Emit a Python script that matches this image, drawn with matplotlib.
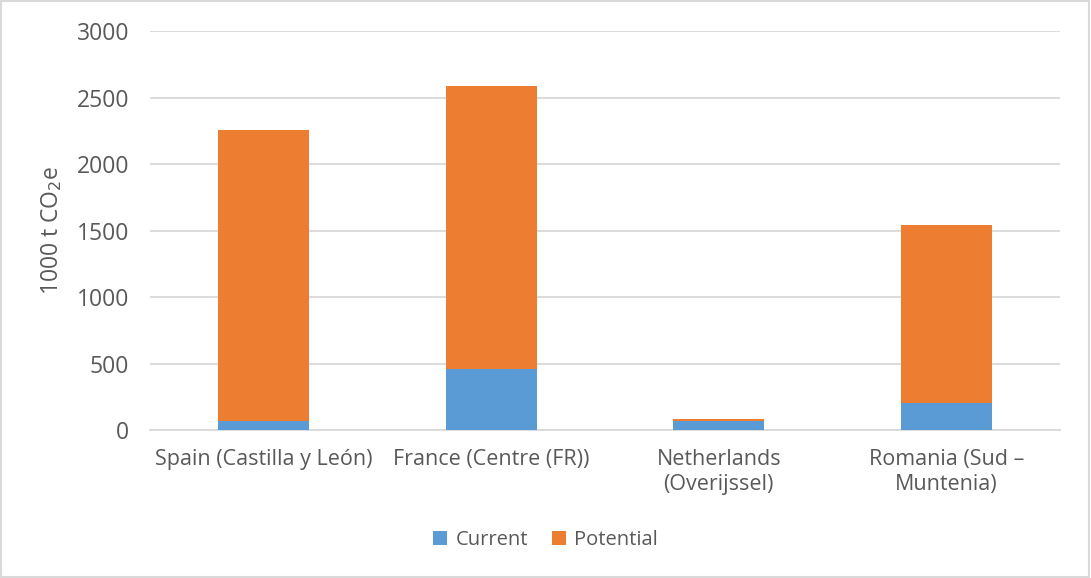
import matplotlib
matplotlib.use("Agg")
import matplotlib.pyplot as plt
from matplotlib.patches import Rectangle

categories = ["Spain (Castilla y León)", "France (Centre (FR))",
              "Netherlands\n(Overijssel)", "Romania (Sud –\nMuntenia)"]
current = [68, 459, 68, 201]
potential = [2192, 2131, 12, 1343]
yticks = [0, 500, 1000, 1500, 2000, 2500, 3000]

plt.rcParams['font.family'] = ['Open Sans', 'DejaVu Sans']
txt = '#595959'
fig = plt.figure(figsize=(10.91, 5.78), dpi=100)
ax = fig.add_axes([0.1375, 0.256, 0.9716 - 0.1375, 0.946 - 0.256])

x = list(range(len(categories)))
ax.bar(x, current, width=0.4, color='#5B9BD5', label='Current', zorder=3)
ax.bar(x, potential, width=0.4, bottom=current, color='#ED7D31', label='Potential', zorder=3)

ax.set_xlim(-0.5, len(categories) - 0.5)
ax.set_ylim(0, 3000)
ax.set_yticks(yticks)
ax.set_yticklabels([str(v) for v in yticks], fontsize=16.5, color=txt)
ax.set_xticks(x)
ax.set_xticklabels(categories, fontsize=15.5, color=txt, linespacing=1.25)
ax.tick_params(axis='x', length=0, pad=14)
ax.tick_params(axis='y', length=0, pad=15)
ax.grid(axis='y', color='#d9d9d9', linewidth=1.3, zorder=0)
for s in ['top', 'right', 'left']:
    ax.spines[s].set_visible(False)
ax.spines['bottom'].set_color('#d9d9d9')
ax.spines['bottom'].set_linewidth(1.3)
ax.set_ylabel('1000 t CO$_2$e', fontsize=16.5, color=txt, labelpad=9)

leg = fig.legend(loc='center', bbox_to_anchor=(0.5, 1 - 540 / 578), ncol=2, frameon=False,
                 fontsize=14.5, handlelength=0.7, handleheight=0.7, columnspacing=1.2,
                 handletextpad=0.4, labelcolor=txt)

fig.patches.append(Rectangle((0.001, 0.001), 0.997, 0.997, transform=fig.transFigure,
                             fill=False, edgecolor='#d9d9d9', linewidth=1.5))
fig.savefig('out.png', dpi=100)
